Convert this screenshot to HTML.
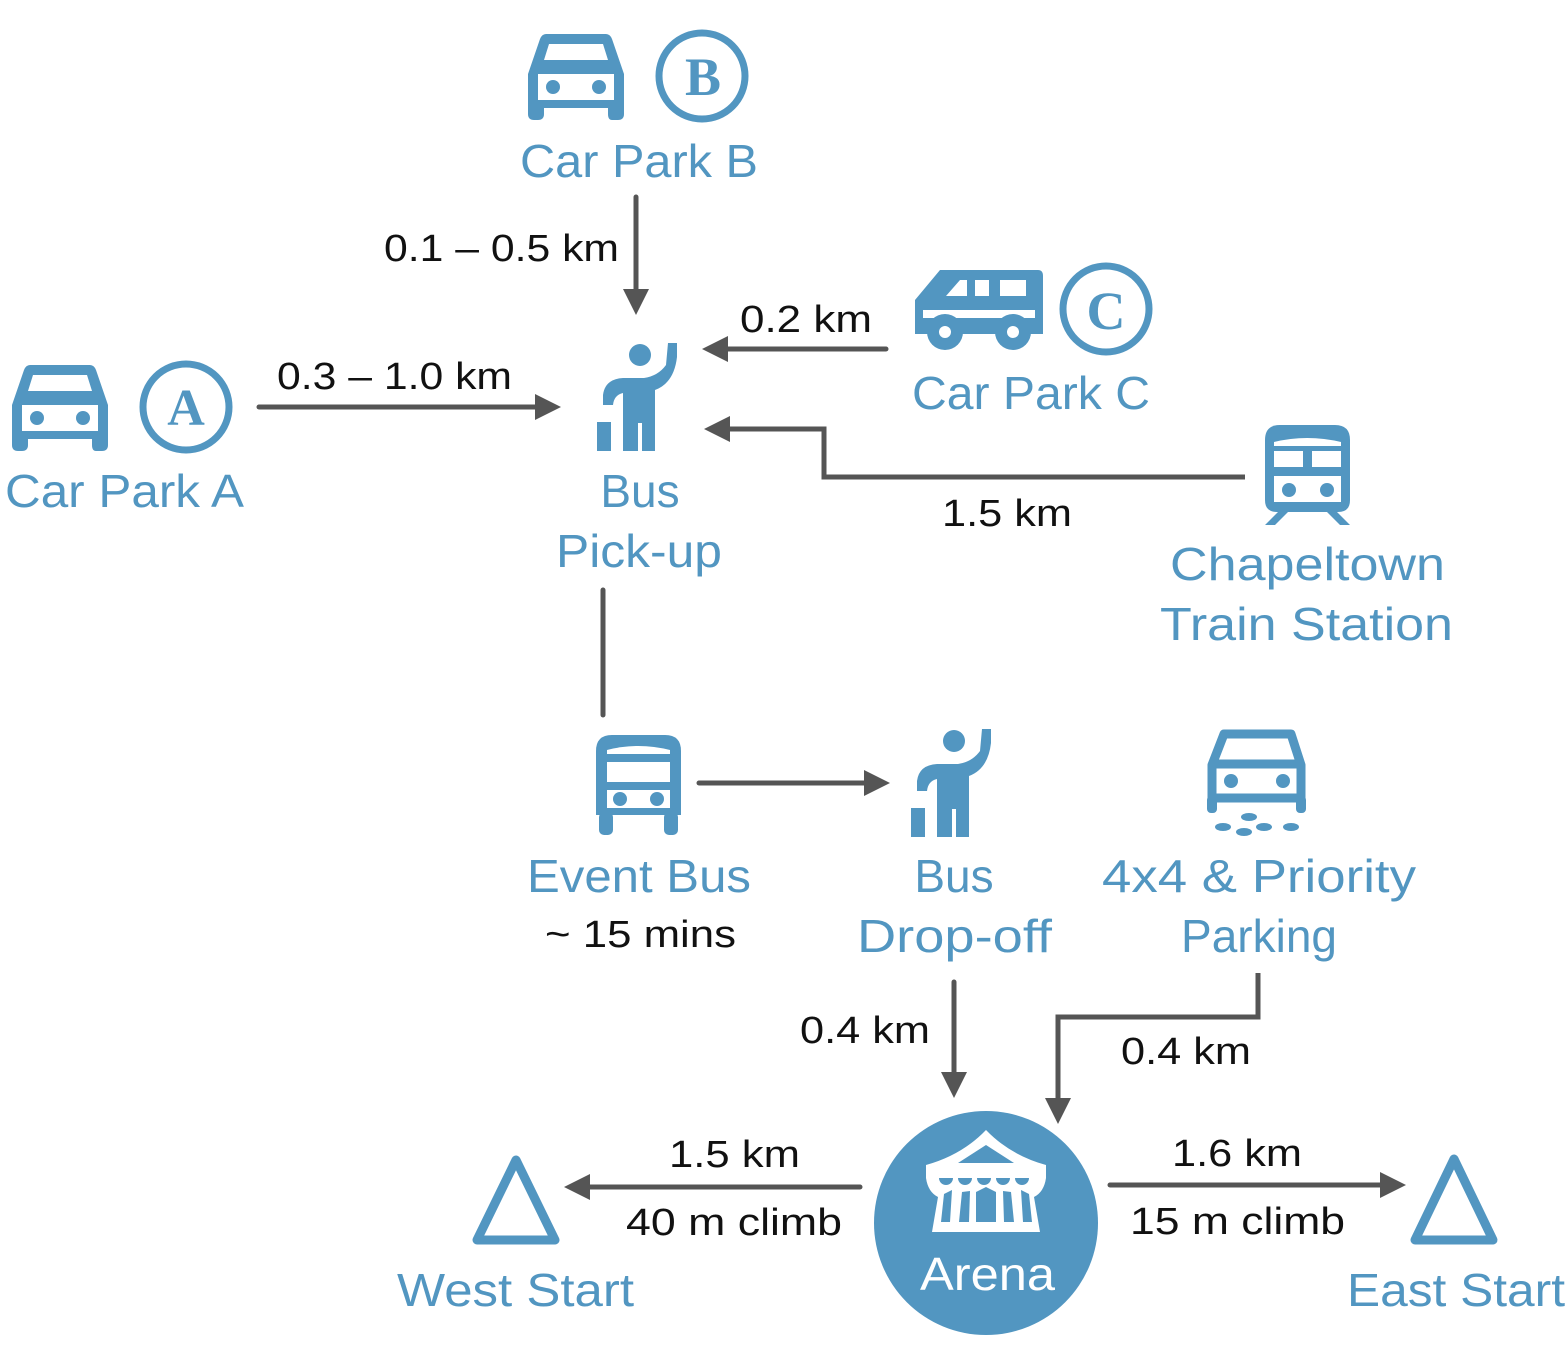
<!DOCTYPE html>
<html><head><meta charset="utf-8"><style>
html,body{margin:0;padding:0;background:#fff;}
svg{display:block;}
.b{fill:#5296c1;font-family:"Liberation Sans",sans-serif;font-size:46px;}
.k{fill:#111;font-family:"Liberation Sans",sans-serif;font-size:38px;}
</style></head><body>
<svg width="1567" height="1360" viewBox="0 0 1567 1360" xmlns="http://www.w3.org/2000/svg">
<defs>
<g id="car">
<path d="M18,0 H78 Q82,0 84,5 L96,40 V80 Q96,86 90,86 H84 Q80,86 80,80 V74 H16 V80 Q16,86 10,86 H6 Q0,86 0,80 V40 L12,5 Q14,0 18,0 Z" fill="#5296c1"/>
<path d="M21,10 H75 L80,26 H16 Z" fill="#fff"/>
<rect x="10" y="40" width="76" height="26" fill="#fff"/>
<circle cx="25" cy="53" r="7" fill="#5296c1"/><circle cx="71" cy="53" r="7" fill="#5296c1"/>
</g>
<g id="person">
<circle cx="44" cy="12" r="11" fill="#5296c1"/>
<path d="M7,62 L7,52 Q9,36 27,35 L48,35 Q62,33 70,22 L72,0 L81,0 L81,14 Q78,40 59,47 L59,108 L46,108 L46,80 L42,80 L42,108 L27,108 L27,50 Q18,52 17,62 Z" fill="#5296c1"/>
<rect x="1" y="79" width="14" height="29" fill="#5296c1"/>
</g>
<marker id="ah" markerWidth="26" markerHeight="26" viewBox="0 0 26 26" refX="0" refY="13" orient="auto" markerUnits="userSpaceOnUse">
<path d="M0,0 L26,13 L0,26 Z" fill="#555"/>
</marker>
</defs>

<!-- Car Park A -->
<use href="#car" x="12" y="365"/>
<circle cx="186" cy="407" r="43" fill="none" stroke="#5296c1" stroke-width="7"/>
<text x="186" y="425" text-anchor="middle" font-family="Liberation Serif,serif" font-weight="bold" font-size="52" fill="#5296c1">A</text>
<text class="b" x="5" y="507" textLength="239" lengthAdjust="spacingAndGlyphs">Car Park A</text>

<!-- Car Park B -->
<use href="#car" x="528" y="34"/>
<circle cx="702" cy="76" r="43" fill="none" stroke="#5296c1" stroke-width="7"/>
<text x="703" y="95" text-anchor="middle" font-family="Liberation Serif,serif" font-weight="bold" font-size="54" fill="#5296c1">B</text>
<text class="b" x="520" y="177" textLength="238" lengthAdjust="spacingAndGlyphs">Car Park B</text>

<!-- Van C -->
<g fill="#5296c1">
<path d="M940,270 H1038 Q1043,270 1043,276 V334 H915 V300 Z"/>
<path d="M946,296 L960,280 H967 V296 Z" fill="#fff"/>
<rect x="975" y="280" width="14" height="16" fill="#fff"/>
<rect x="1000" y="280" width="26" height="16" fill="#fff"/>
<rect x="923" y="310" width="112" height="8" fill="#fff"/>
<circle cx="945" cy="332" r="18"/><circle cx="1013" cy="332" r="18"/>
<circle cx="945" cy="332" r="6" fill="#fff"/><circle cx="1013" cy="332" r="6" fill="#fff"/>
</g>
<circle cx="1106" cy="309" r="43" fill="none" stroke="#5296c1" stroke-width="7"/>
<text x="1106" y="329" text-anchor="middle" font-family="Liberation Serif,serif" font-weight="bold" font-size="54" fill="#5296c1">C</text>
<text class="b" x="912" y="409" textLength="238" lengthAdjust="spacingAndGlyphs">Car Park C</text>

<!-- Bus pick-up -->
<use href="#person" x="596" y="343"/>
<text class="b" x="640" y="507" text-anchor="middle">Bus</text>
<text class="b" x="556" y="567" textLength="166" lengthAdjust="spacingAndGlyphs">Pick-up</text>

<!-- Train -->
<g fill="#5296c1">
<path d="M1280,425 H1335 Q1350,425 1350,440 V500 Q1350,512 1338,512 H1277 Q1265,512 1265,500 V440 Q1265,425 1280,425 Z"/>
<path d="M1274,442 Q1307,434 1341,442 V446 H1274 Z" fill="#fff"/>
<rect x="1274" y="451" width="29" height="16" fill="#fff"/><rect x="1312" y="451" width="29" height="16" fill="#fff"/>
<rect x="1274" y="476" width="67" height="26" fill="#fff"/>
<circle cx="1289" cy="490" r="7"/><circle cx="1327" cy="490" r="7"/>
<path d="M1278,512 L1265,525 H1275 L1288,512 Z M1327,512 L1340,525 H1350 L1337,512 Z"/>
</g>
<text class="b" x="1170" y="580" textLength="275" lengthAdjust="spacingAndGlyphs">Chapeltown</text>
<text class="b" x="1160" y="640" textLength="293" lengthAdjust="spacingAndGlyphs">Train Station</text>

<!-- Event bus -->
<g fill="#5296c1">
<path d="M612,735 H665 Q681,735 681,751 V815 H596 V751 Q596,735 612,735 Z"/>
<path d="M607,750 Q638,742 670,750 V754 H607 Z" fill="#fff"/>
<rect x="607" y="762" width="63" height="20" fill="#fff"/>
<rect x="607" y="790" width="63" height="18" fill="#fff"/>
<circle cx="620" cy="799" r="7"/><circle cx="657" cy="799" r="7"/>
<rect x="599" y="812" width="14" height="23" rx="5"/><rect x="664" y="812" width="14" height="23" rx="5"/>
</g>
<text class="b" x="527" y="892" textLength="224" lengthAdjust="spacingAndGlyphs">Event Bus</text>
<text class="k" x="545" y="947" textLength="191" lengthAdjust="spacingAndGlyphs">~ 15 mins</text>

<!-- Drop-off -->
<use href="#person" x="910" y="729"/>
<text class="b" x="954" y="892" text-anchor="middle">Bus</text>
<text class="b" x="857" y="952" textLength="195" lengthAdjust="spacingAndGlyphs">Drop-off</text>

<!-- 4x4 -->
<g fill="none" stroke="#5296c1" stroke-width="9">
<path d="M1224,734 H1291 L1301,765 V798 H1212 V765 Z" stroke-linejoin="round"/>
<line x1="1214" y1="764" x2="1299" y2="764"/>
</g>
<g fill="#5296c1">
<rect x="1207" y="796" width="10" height="17" rx="4"/><rect x="1296" y="796" width="10" height="17" rx="4"/>
<circle cx="1231" cy="781" r="7"/><circle cx="1283" cy="781" r="7"/>
<ellipse cx="1249" cy="817" rx="8" ry="4"/><ellipse cx="1223" cy="827" rx="8" ry="4"/><ellipse cx="1264" cy="827" rx="8" ry="4"/><ellipse cx="1291" cy="827" rx="8" ry="4"/><ellipse cx="1244" cy="832" rx="8" ry="4"/>
</g>
<text class="b" x="1102" y="892" textLength="314" lengthAdjust="spacingAndGlyphs">4x4 &amp; Priority</text>
<text class="b" x="1259" y="952" text-anchor="middle">Parking</text>

<!-- Arena -->
<circle cx="986" cy="1223" r="112" fill="#5296c1"/>
<g fill="#fff">
<path d="M986,1130 Q1010,1155 1046,1165 V1178 Q1044,1192 1034,1197 L1040,1232 H932 L938,1197 Q928,1192 926,1178 V1165 Q962,1155 986,1130 Z"/>
</g>
<g fill="#5296c1">
<path d="M986,1145 L1014,1163 H958 Z"/>
<path d="M939,1178 h14 a7,7 0 0 1 -14,0 Z M958,1178 h14 a7,7 0 0 1 -14,0 Z M977,1178 h14 a7,7 0 0 1 -14,0 Z M996,1178 h14 a7,7 0 0 1 -14,0 Z M1015,1178 h14 a7,7 0 0 1 -14,0 Z"/>
<path d="M944,1194 L952,1190 L950,1222 H941 Z M962,1192 L970,1191 L969,1222 H959 Z M976,1192 L986,1187 L996,1192 V1222 H976 Z M1003,1191 L1011,1192 L1014,1222 H1004 Z M1021,1190 L1029,1194 L1032,1222 H1023 Z"/>
</g>
<text x="920" y="1290" fill="#fff" font-family="Liberation Sans,sans-serif" font-size="46" textLength="135" lengthAdjust="spacingAndGlyphs">Arena</text>

<!-- Triangles -->
<path d="M516,1160 L555,1240 H477 Z" fill="none" stroke="#5296c1" stroke-width="9" stroke-linejoin="round"/>
<path d="M1454,1159 L1493,1240 H1415 Z" fill="none" stroke="#5296c1" stroke-width="9" stroke-linejoin="round"/>
<text class="b" x="397" y="1306" textLength="237" lengthAdjust="spacingAndGlyphs">West Start</text>
<text class="b" x="1347" y="1306" textLength="218" lengthAdjust="spacingAndGlyphs">East Start</text>

<!-- Connectors -->
<g stroke="#555" stroke-width="5" fill="none" stroke-linecap="round">
<line x1="636" y1="197" x2="636" y2="289" marker-end="url(#ah)"/>
<line x1="259" y1="407" x2="535" y2="407" marker-end="url(#ah)"/>
<line x1="886" y1="349" x2="728" y2="349" marker-end="url(#ah)"/>
<polyline points="1245,477 824,477 824,429 730,429" marker-end="url(#ah)" stroke-linecap="butt"/>
<line x1="603" y1="590" x2="603" y2="715"/>
<line x1="699" y1="783" x2="864" y2="783" marker-end="url(#ah)"/>
<line x1="954" y1="982" x2="954" y2="1072" marker-end="url(#ah)"/>
<polyline points="1258,973 1258,1017 1058,1017 1058,1098" marker-end="url(#ah)" stroke-linecap="butt"/>
<line x1="860" y1="1187" x2="590" y2="1187" marker-end="url(#ah)"/>
<line x1="1110" y1="1185" x2="1380" y2="1185" marker-end="url(#ah)"/>
</g>

<!-- Labels -->
<text class="k" x="384" y="261" textLength="235" lengthAdjust="spacingAndGlyphs">0.1 – 0.5 km</text>
<text class="k" x="277" y="389" textLength="235" lengthAdjust="spacingAndGlyphs">0.3 – 1.0 km</text>
<text class="k" x="740" y="332" textLength="132" lengthAdjust="spacingAndGlyphs">0.2 km</text>
<text class="k" x="942" y="526" textLength="130" lengthAdjust="spacingAndGlyphs">1.5 km</text>
<text class="k" x="800" y="1043" textLength="130" lengthAdjust="spacingAndGlyphs">0.4 km</text>
<text class="k" x="1121" y="1064" textLength="130" lengthAdjust="spacingAndGlyphs">0.4 km</text>
<text class="k" x="669" y="1167" textLength="131" lengthAdjust="spacingAndGlyphs">1.5 km</text>
<text class="k" x="626" y="1235" textLength="216" lengthAdjust="spacingAndGlyphs">40 m climb</text>
<text class="k" x="1172" y="1166" textLength="130" lengthAdjust="spacingAndGlyphs">1.6 km</text>
<text class="k" x="1130" y="1234" textLength="215" lengthAdjust="spacingAndGlyphs">15 m climb</text>
</svg>
</body></html>
